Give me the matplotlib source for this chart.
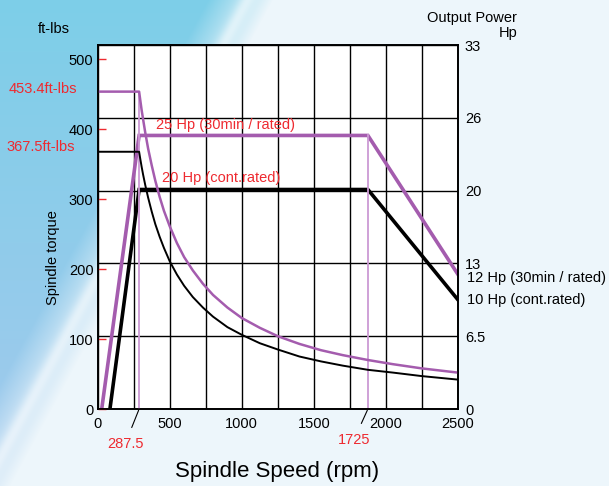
import numpy as np
import matplotlib.pyplot as plt

plt.rcParams['font.family'] = ['Liberation Sans', 'DejaVu Sans']

# output power curves (Hp, right axis)
speed_30min = [28, 287.5, 1875, 2500]
power_30min = [0, 24.8, 24.8, 12.2]
speed_cont = [85, 287.5, 1875, 2500]
power_cont = [0, 19.9, 19.9, 9.9]

# spindle torque curves (ft-lbs, left axis)
speed_torque = [0, 287.5, 295, 305, 315, 330, 350, 375, 400, 430, 460, 500,
                550, 600, 660, 730, 800, 900, 1000, 1125, 1250, 1400, 1550,
                1700, 1875, 2050, 2250, 2500]
torque_30min = [453.4, 453.4, 442, 427, 414, 395, 372, 348, 326, 303, 283, 261,
                237, 217, 198, 179, 163, 145, 130, 116, 104, 93, 84,
                77, 70, 64, 58, 52]
torque_cont = [367.5, 367.5, 358, 346, 335, 320, 302, 282, 264, 246, 230, 211,
               192, 176, 160, 145, 132, 117, 106, 94, 85, 75, 68,
               62, 56, 52, 47, 42]

base_speed = 287.5
corner_speed = 1875
corner_label = '1725'

torque_ticks = [0, 100, 200, 300, 400, 500]
power_ticks = [0, 6.6, 13.2, 19.8, 26.4, 33]
power_labels = ['0', '6.5', '13', '20', '26', '33']
speed_grid = list(range(0, 2501, 250))
speed_labels = ['0' if s == 0 else (str(s) if s % 500 == 0 else '') for s in speed_grid]

PURPLE = '#a45cae'
LIGHT_PURPLE = '#cc9ad4'
RED = '#ee2a30'


def background(h=486, w=609):
    yy, xx = np.mgrid[0:h, 0:w].astype(float)
    u = xx / 260 + yy / 480
    t = (yy / h)[..., None]
    top = np.array([0.49, 0.81, 0.91])
    bot = np.array([0.64, 0.79, 0.93])
    blue = top * (1 - t) + bot * t
    white = np.array([0.93, 0.965, 0.985])
    m = np.clip((u - 0.8) / 0.25, 0, 1)[..., None]
    img = blue * (1 - m) + white * m
    streak = 0.5 * np.exp(-((u - 0.95) / 0.03) ** 2)[..., None]
    img = img * (1 - streak) + streak
    return np.clip(img, 0, 1)


fig = plt.figure(figsize=(6.09, 4.86), dpi=100)
bg = fig.add_axes([0, 0, 1, 1])
bg.imshow(background(), aspect='auto')
bg.axis('off')

# host axis = output power (grid lives here so torque lines draw on top)
ax = fig.add_axes([0.1604, 0.1584, 0.5916, 0.749])
ax.set_facecolor('white')
tq = ax.twinx()
ax.yaxis.tick_right()
tq.yaxis.tick_left()

ax.set_xlim(0, 2500)
ax.set_ylim(0, 33)
tq.set_ylim(0, 520)

ax.set_xticks(speed_grid)
ax.set_xticklabels(speed_labels, fontsize=10.5)
ax.set_yticks(power_ticks)
ax.set_yticklabels(power_labels, fontsize=10.5)
ax.tick_params(axis='x', length=0, pad=6)
ax.tick_params(axis='y', length=0, pad=5)
ax.grid(True, color='black', lw=1.0)

tq.set_yticks(torque_ticks)
tq.tick_params(axis='y', direction='in', length=6, color=RED, width=1,
               labelsize=10.5, pad=3)

for a in (ax, tq):
    for sp in a.spines.values():
        sp.set_color('black')
        sp.set_linewidth(1.2)

# power curves
ax.plot(speed_30min, power_30min, color=PURPLE, lw=2.6, solid_joinstyle='miter')
ax.plot(speed_cont, power_cont, color='black', lw=2.6, solid_joinstyle='miter')

# speed markers
tq.plot([base_speed, base_speed], [0, torque_30min[1]], color=LIGHT_PURPLE, lw=1.3)
ax.plot([corner_speed, corner_speed], [0, power_30min[2]], color=LIGHT_PURPLE, lw=1.3)

# torque curves
tq.plot(speed_torque, torque_30min, color=PURPLE, lw=1.8, solid_joinstyle='round')
tq.plot(speed_torque, torque_cont, color='black', lw=1.4, solid_joinstyle='round')

# labels
fig.text(54 / 609, 1 - 29 / 486, 'ft-lbs', fontsize=10.5, ha='center', va='center')
fig.text(517 / 609, 1 - 18 / 486, 'Output Power', fontsize=10.5, ha='right', va='center')
fig.text(517 / 609, 1 - 33 / 486, 'Hp', fontsize=10.5, ha='right', va='center')
fig.text(43 / 609, 1 - 89 / 486, '453.4ft-lbs', fontsize=10.5, color=RED, ha='center', va='center')
fig.text(41 / 609, 1 - 147 / 486, '367.5ft-lbs', fontsize=10.5, color=RED, ha='center', va='center')
fig.text(225 / 609, 1 - 125 / 486, '25 Hp (30min / rated)', fontsize=10.5, color=RED, ha='center', va='center')
fig.text(221 / 609, 1 - 178 / 486, '20 Hp (cont.rated)', fontsize=10.5, color=RED, ha='center', va='center')
fig.text(467 / 609, 1 - 278 / 486, '12 Hp (30min / rated)', fontsize=10.5, ha='left', va='center')
fig.text(467 / 609, 1 - 300 / 486, '10 Hp (cont.rated)', fontsize=10.5, ha='left', va='center')
fig.text(53 / 609, 1 - 258 / 486, 'Spindle torque', fontsize=10.5, rotation=90, ha='center', va='center')
fig.text(277 / 609, 1 - 471 / 486, 'Spindle Speed (rpm)', fontsize=16, ha='center', va='center')

ax.annotate(f'{base_speed:g}', xy=(base_speed, 0), xytext=(-10, -25),
            textcoords='offset points', ha='center', va='center', fontsize=10.5,
            color=RED, annotation_clip=False,
            arrowprops=dict(arrowstyle='-', color='black', lw=0.8, shrinkA=5, shrinkB=1))
ax.annotate(corner_label, xy=(corner_speed, 0), xytext=(-10, -22),
            textcoords='offset points', ha='center', va='center', fontsize=10.5,
            color=RED, annotation_clip=False,
            arrowprops=dict(arrowstyle='-', color='black', lw=0.8, shrinkA=5, shrinkB=1))

fig.savefig('out.png', dpi=100)
